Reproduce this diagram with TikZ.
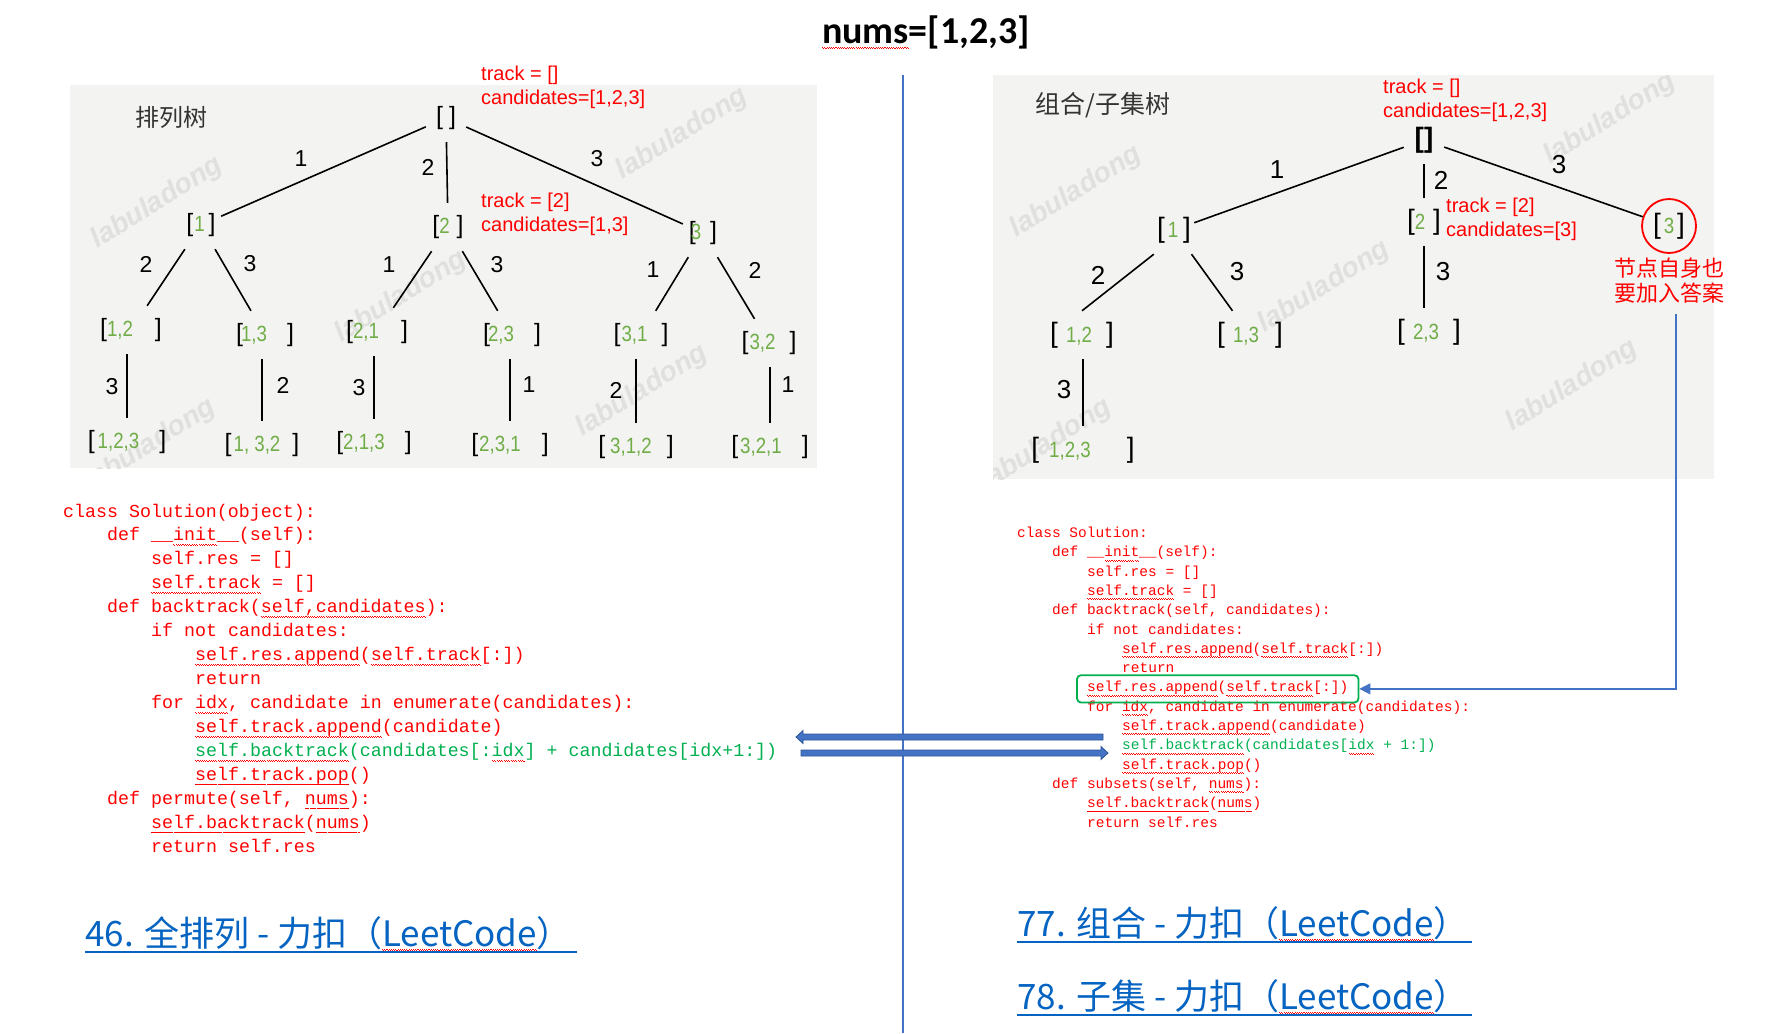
\documentclass[tikz,border=0pt]{standalone}
\usepackage{fontspec}
\usetikzlibrary{arrows.meta, positioning, fit}
\setmainfont{Liberation Sans}
\newfontfamily\gfont[FakeStretch=0.85]{Liberation Sans}
\newfontfamily\cjk{Noto Sans CJK SC}
\newfontfamily\codefont{Liberation Mono}
\newfontfamily\titlefont{Carlito}
\definecolor{tgreen}{RGB}{112,173,71}
\definecolor{cgreen}{RGB}{0,176,80}
\definecolor{lblue}{RGB}{68,114,196}
\definecolor{dblue}{RGB}{47,85,151}
\definecolor{ublue}{RGB}{5,99,193}
\definecolor{paper}{RGB}{243,243,241}
\definecolor{mark}{RGB}{224,224,222}
\newsavebox\wvbox
\newcommand\wv[1]{\sbox\wvbox{#1}\rlap{\raisebox{-3.5pt}{\hbox to \wd\wvbox{\color{red}\xleaders\hbox{\rule{1.1pt}{0.7pt}\rule[-0.9pt]{1.1pt}{0.7pt}}\hfill}}}\usebox\wvbox}
\newcommand\gn[1]{{\gfont\fontsize{22}{22}\selectfont\color{tgreen}#1}}

\begin{document}
\begin{tikzpicture}[x=1pt, y=-1pt,
    tn/.style={inner sep=0pt, minimum width=40pt, minimum height=48pt, font=\fontsize{25}{25}\selectfont},
    tr/.style={tn, font=\fontsize{28}{28}\selectfont},
    edge/.style={line width=1.6pt},
    lbl/.style={inner sep=0pt, font=\fontsize{23}{23}\selectfont},
    rlbl/.style={inner sep=0pt, font=\fontsize{26}{26}\selectfont},
    note/.style={inner sep=0pt, text=red, align=left, font=\fontsize{20}{24}\selectfont},
    code/.style={inner sep=0pt, anchor=base west, text=red},
    lcode/.style={code, font=\codefont\fontsize{18.3}{18.3}\selectfont},
    rcode/.style={code, font=\codefont\fontsize{14.5}{14.5}\selectfont},
    wm/.style={text=mark, rotate=32, font=\bfseries\itshape\fontsize{28}{28}\selectfont},
    link/.style={inner sep=0pt, anchor=base west, text=ublue, font=\cjk\fontsize{35}{35}\selectfont},
    uline/.style={ublue, line width=2.5pt},
    gbox/.style={draw=cgreen, line width=1.8pt, rounded corners=4pt, inner xsep=10pt, inner ysep=6pt},
    fat/.style={fill=lblue, draw=dblue, line width=0.8pt}]

    \useasboundingbox (0,0) rectangle (1776,1033);

    % paper backgrounds with watermarks
    \fill[paper] (70,85) rectangle (817,468);
    \fill[paper] (993,75) rectangle (1714,479);
    \begin{scope}
        \clip (70,85) rectangle (817,468);
        \foreach \x/\y [count=\i] in {157/203, 682/134, 401/297, 642/391, 150/445}
            \node[wm] (wl\i) at (\x,\y) {labuladong};
    \end{scope}
    \begin{scope}
        \clip (993,75) rectangle (1714,479);
        \foreach \x/\y [count=\i] in {1076/192, 1610/119, 1324/287, 1572/386, 1046/445}
            \node[wm] (wr\i) at (\x,\y) {labuladong};
    \end{scope}

    % title and separator
    \node[font=\titlefont\bfseries\fontsize{38}{38}\selectfont, anchor=base, inner sep=0pt] (title) at (926,44) {\wv{nums}=[1,2,3]};
    \draw[lblue, line width=1.2pt] (903,75) -- (903,1033);

    % permutation tree
    \node[inner sep=0pt, text=black!80, font=\cjk\fontsize{24}{24}\selectfont] (ptree) at (171,117) {排列树};
    \node[tn] (r) at (446,118) {[\hspace{6pt}]};
    \node[tn] (n1) at (201,225) {[\hspace{1pt}\gn{1}\hspace{4pt}]};
    \node[tn] (n2) at (448,227) {[\gn{2}\hspace{7pt}]};
    \node[tn] (n3) at (703,233) {[\hspace{-5pt}\gn{3}\hspace{9pt}]};

    \node[tn] (n12) at (131,330) {[\gn{1,2}\hspace{22pt}]};
    \node[tn] (n13) at (265,335) {[\hspace{-2pt}\gn{1,3}\hspace{20pt}]};
    \node[tn] (n21) at (377,332) {[\gn{2,1}\hspace{22pt}]};
    \node[tn] (n23) at (512,335) {[\hspace{-2pt}\gn{2,3}\hspace{20pt}]};
    \node[tn] (n31) at (641,335) {[\hspace{1pt}\gn{3,1}\hspace{14pt}]};
    \node[tn] (n32) at (769,343) {[\hspace{1pt}\gn{3,2}\hspace{14pt}]};

    \node[tn] (n123) at (127,442) {[\hspace{3pt}\gn{1,2,3}\hspace{20pt}]};
    \node[tn] (n132) at (262,445) {[\hspace{2pt}\gn{1, 3,2}\hspace{12pt}]};
    \node[tn] (n213) at (374,443) {[\gn{2,1,3}\hspace{20pt}]};
    \node[tn] (n231) at (510,445) {[\hspace{1pt}\gn{2,3,1}\hspace{21pt}]};
    \node[tn] (n312) at (636,447) {[\hspace{5pt}\gn{3,1,2}\hspace{15pt}]};
    \node[tn] (n321) at (770,447) {[\hspace{2pt}\gn{3,2,1}\hspace{20pt}]};

    \draw[edge] (r) -- (n1);
    \draw[edge] (r) -- (n2);
    \draw[edge] (r) -- (n3);
    \draw[edge] (n1) -- (n12);
    \draw[edge] (n1) -- (n13);
    \draw[edge] (n2) -- (n21);
    \draw[edge] (n2) -- (n23);
    \draw[edge] (n3) -- (n31);
    \draw[edge] (n3) -- (n32);
    \draw[edge] (n12.south -| n123) -- (n123.north);
    \draw[edge] (n13.south -| n132) -- (n132.north);
    \draw[edge] (n21.south -| n213) -- (n213.north);
    \draw[edge] (n23.south -| n231) -- (n231.north);
    \draw[edge] (n31.south -| n312) -- (n312.north);
    \draw[edge] (n32.south -| n321) -- (n321.north);

    \foreach \x/\y/\t [count=\i] in {301/159/1, 428/167/2, 597/159/3, 146/264/2, 250/264/3, 389/265/1, 497/265/3,
        653/270/1, 755/270/2, 112/387/3, 283/385/2, 359/388/3, 529/385/1, 616/390/2, 788/385/1}
        \node[lbl] (pl\i) at (\x,\y) {\t};

    \node[note, anchor=west] (s0) at (481,87) {track = []\\candidates=[1,2,3]};
    \node[note, anchor=west] (s2) at (481,214) {track = [2]\\candidates=[1,3]};

    % subset tree
    \node[inner sep=0pt, text=black!80, font=\cjk\fontsize{25}{25}\selectfont] (stree) at (1103,105) {组合/子集树};
    \node[tr] (q) at (1424,140) {\textbf{[]}};
    \node[tr] (q1) at (1174,230) {[\hspace{3pt}\gn{1}\hspace{5pt}]};
    \node[tr] (q2) at (1424,222) {[\gn{2}\hspace{8pt}]};
    \node[tr, circle, draw=red, line width=1.8pt, minimum size=54pt] (q3) at (1669,226) {[\hspace{3pt}\gn{3}\hspace{3pt}]};
    \node[tr] (q12) at (1082,335) {[\hspace{8pt}\gn{1,2}\hspace{14pt}]};
    \node[tr] (q13) at (1250,335) {[\hspace{8pt}\gn{1,3}\hspace{16pt}]};
    \node[tr] (q23) at (1429,332) {[\hspace{8pt}\gn{2,3}\hspace{14pt}]};
    \node[tr] (q123) at (1083,450) {[\hspace{10pt}\gn{1,2,3}\hspace{36pt}]};

    \draw[edge] (q) -- (q1);
    \draw[edge] (q) -- (q2);
    \draw[edge] (q) -- (q3);
    \draw[edge] (q1.south west) -- (q12.north);
    \draw[edge] (q1) -- (q13);
    \draw[edge] (q2.south) -- (q2.south |- q23.north);
    \draw[edge] (q12.south -| q123) -- (q123.north);

    \foreach \x/\y/\t [count=\i] in {1277/170/1, 1441/180/2, 1559/165/3, 1098/275/2, 1237/272/3, 1443/272/3, 1064/390/3}
        \node[rlbl] (sl\i) at (\x,\y) {\t};

    \node[note, anchor=west] (t0) at (1383,100) {track = []\\candidates=[1,2,3]};
    \node[note, anchor=west] (t2) at (1446,219) {track = [2]\\candidates=[3]};
    \node[inner sep=0pt, text=red, align=center, font=\cjk\fontsize{22}{25}\selectfont] (q3note) at (1669,281) {节点自身也\\要加入答案};

    % permutation code
    \foreach \lv/\t [count=\i] in {0/{class Solution(object):},
        1/{def \_\_\wv{init}\_\_(self):},
        2/{self.res = []},
        2/{\wv{self.track} = []},
        1/{def backtrack(\wv{self,candidates}):},
        2/{if not candidates:},
        3/{\wv{self.res.append}(\wv{self.track}[:])},
        3/{return},
        2/{for \wv{idx}, candidate in enumerate(candidates):},
        3/{\wv{self.track.append}(candidate)},
        3/{\color{cgreen}\wv{self.backtrack}(candidates[:\wv{idx}] + candidates[idx+1:])},
        3/{\wv{self.track.pop}()},
        1/{def permute(self, \wv{nums}):},
        2/{\wv{self.backtrack}(\wv{nums})},
        2/{return self.res}}
        \node[lcode] (lc\i) at (63+44*\lv, 517+23.98*\i-23.98) {\t};

    % subset code
    \foreach \lv/\t [count=\i] in {0/{class Solution:},
        1/{def \_\_\wv{init}\_\_(self):},
        2/{self.res = []},
        2/{\wv{self.track} = []},
        1/{def backtrack(self, candidates):},
        2/{if not candidates:},
        3/{\wv{self.res.append}(\wv{self.track}[:])},
        3/{return},
        2/{\wv{self.res.append}(\wv{self.track}[:])},
        2/{for \wv{idx}, candidate in enumerate(candidates):},
        3/{\wv{self.track.append}(candidate)},
        3/{\color{cgreen}\wv{self.backtrack}(candidates[\wv{idx} + 1:])},
        3/{\wv{self.track.pop}()},
        1/{def subsets(self, \wv{nums}):},
        2/{\wv{self.backtrack}(\wv{nums})},
        2/{return self.res}}
        \node[rcode] (rc\i) at (1017+35*\lv, 537.5+19.3*\i-19.3) {\t};

    \node[gbox, fit=(rc9)] (box) {};
    \draw[lblue, line width=1.3pt, -{Triangle[length=11pt, width=11pt]}] ([xshift=7pt, yshift=-10pt]q3note.south) |- (box.east);

    % fat arrows between the two recursive calls
    \coordinate (al) at (1103,737);
    \coordinate (ar) at (801,753);
    \draw[fat] (al) ++(0,-3) -- ++(-300,0) -- ++(0,-3.5) -- ++(-7,6.5) -- ++(7,6.5) -- ++(0,-3.5) -- ++(300,0) -- cycle;
    \draw[fat] (ar) ++(0,-3) -- ++(300,0) -- ++(0,-3.5) -- ++(7,6.5) -- ++(-7,6.5) -- ++(0,-3.5) -- ++(-300,0) -- cycle;

    % links
    \node[link] (k1) at (85,946) {46. 全排列 - 力扣（\wv{LeetCode}）};
    \node[link] (k2) at (1017,936) {77. 组合 - 力扣（\wv{LeetCode}）};
    \node[link] (k3) at (1017,1009) {78. 子集 - 力扣（\wv{LeetCode}）};
    \draw[uline] ([yshift=-6pt]k1.base west) -- ++(492,0);
    \draw[uline] ([yshift=-6pt]k2.base west) -- ++(455,0);
    \draw[uline] ([yshift=-6pt]k3.base west) -- ++(455,0);

\end{tikzpicture}
\end{document}
